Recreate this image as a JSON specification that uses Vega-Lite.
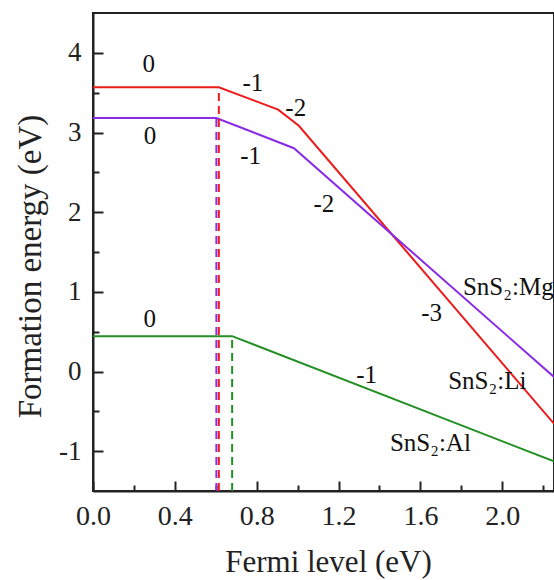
{
  "$schema": "https://vega.github.io/schema/vega-lite/v6.json",
  "width": 461,
  "height": 478,
  "autosize": {"type": "none"},
  "padding": {"left": 93, "top": 13, "right": 0, "bottom": 89},
  "background": "white",
  "config": {
    "view": {"stroke": "#222", "strokeWidth": 2},
    "font": "Liberation Serif",
    "text": {"font": "Liberation Serif"},
    "axis": {
      "grid": false,
      "domainColor": "#222",
      "domainWidth": 2,
      "tickColor": "#222",
      "tickWidth": 2,
      "labelFont": "Liberation Serif",
      "titleFont": "Liberation Serif",
      "labelColor": "#222",
      "titleColor": "#222",
      "titleFontWeight": "normal",
      "labelFlush": false,
      "labelOverlap": false
    }
  },
  "datasets": {
    "lines": [
      {"series": "Li", "x": 0, "y": 3.567},
      {"series": "Li", "x": 0.615, "y": 3.567},
      {"series": "Li", "x": 0.905, "y": 3.287},
      {"series": "Li", "x": 1.006, "y": 3.085},
      {"series": "Li", "x": 2.253, "y": -0.655},
      {"series": "Mg", "x": 0, "y": 3.182},
      {"series": "Mg", "x": 0.603, "y": 3.182},
      {"series": "Mg", "x": 0.982, "y": 2.803},
      {"series": "Mg", "x": 2.253, "y": -0.068},
      {"series": "Al", "x": 0, "y": 0.444},
      {"series": "Al", "x": 0.68, "y": 0.444},
      {"series": "Al", "x": 2.253, "y": -1.128}
    ],
    "drops": [
      {"series": "Mg", "x": 0.603, "y0": -1.5, "y1": 3.182},
      {"series": "Li", "x": 0.615, "y0": -1.5, "y1": 3.567},
      {"series": "Al", "x": 0.68, "y0": -1.5, "y1": 0.444}
    ],
    "charges": [
      {"t": "0", "x": 0.272, "y": 3.865},
      {"t": "-1", "x": 0.781, "y": 3.625},
      {"t": "-2", "x": 0.991, "y": 3.311},
      {"t": "0", "x": 0.278, "y": 2.96},
      {"t": "-1", "x": 0.77, "y": 2.7},
      {"t": "-2", "x": 1.128, "y": 2.105},
      {"t": "-3", "x": 1.655, "y": 0.74},
      {"t": "0", "x": 0.277, "y": 0.658},
      {"t": "-1", "x": 1.337, "y": -0.046}
    ],
    "names": [
      {"t": "SnS₂:Mg", "x": 1.808, "y": 1.06},
      {"t": "SnS₂:Li", "x": 1.736, "y": -0.12},
      {"t": "SnS₂:Al", "x": 1.451, "y": -0.9}
    ]
  },
  "layer": [
    {
      "data": {"name": "lines"},
      "mark": {"type": "line", "strokeWidth": 2},
      "encoding": {
        "x": {
          "field": "x", "type": "quantitative",
          "scale": {"domain": [0, 2.253], "nice": false, "zero": false},
          "axis": {
            "orient": "bottom",
            "values": [0, 0.4, 0.8, 1.2, 1.6, 2.0],
            "format": ".1f",
            "tickSize": -10,
            "labelPadding": 21,
            "labelFont": "Liberation Serif",
            "labelFontSize": 28,
            "title": "Fermi level (eV)",
            "titleFont": "Liberation Serif",
            "titleFontSize": 31,
            "titleX": 235,
            "titleY": 80,
            "titleBaseline": "alphabetic",
            "titleAlign": "center"
          }
        },
        "y": {
          "field": "y", "type": "quantitative",
          "scale": {"domain": [-1.5, 4.5], "nice": false, "zero": false},
          "axis": {
            "orient": "left",
            "values": [-1, 0, 1, 2, 3, 4],
            "labelExpr": "datum.value < 0 ? '-' + abs(datum.value) : '' + datum.value",
            "tickSize": -10,
            "labelPadding": 22,
            "labelFont": "Liberation Serif",
            "labelFontSize": 27,
            "title": "Formation energy (eV)",
            "titleFont": "Liberation Serif",
            "titleFontSize": 33,
            "titleAngle": -90,
            "titleX": -53,
            "titleY": 253,
            "titleBaseline": "alphabetic",
            "titleAlign": "center"
          }
        },
        "color": {
          "field": "series", "type": "nominal",
          "scale": {"domain": ["Li", "Mg", "Al"], "range": ["#ee1a1a", "#8a2be6", "#239023"]},
          "legend": null
        },
        "order": {"field": "x", "type": "quantitative"}
      }
    },
    {
      "data": {"name": "drops"},
      "mark": {"type": "rule", "strokeWidth": 2, "strokeDash": [8, 5]},
      "encoding": {
        "x": {"field": "x", "type": "quantitative", "axis": null},
        "y": {"field": "y0", "type": "quantitative", "axis": null},
        "y2": {"field": "y1"},
        "color": {"field": "series", "type": "nominal", "legend": null}
      }
    },
    {
      "data": {"name": "charges"},
      "mark": {"type": "text", "font": "Liberation Serif", "fontSize": 25, "align": "center", "baseline": "middle", "color": "#111"},
      "encoding": {
        "x": {
          "field": "x", "type": "quantitative",
          "axis": {"orient": "bottom", "values": [0.2, 0.6, 1.0, 1.4, 1.8, 2.2], "labels": false, "domain": false, "tickSize": -6, "title": null}
        },
        "y": {
          "field": "y", "type": "quantitative",
          "axis": {"orient": "left", "values": [-0.5, 0.5, 1.5, 2.5, 3.5], "labels": false, "domain": false, "tickSize": -6, "title": null}
        },
        "text": {"field": "t"}
      }
    },
    {
      "data": {"name": "names"},
      "mark": {"type": "text", "font": "Liberation Serif", "fontSize": 25, "align": "left", "baseline": "middle", "color": "#111"},
      "encoding": {
        "x": {"field": "x", "type": "quantitative", "axis": null},
        "y": {"field": "y", "type": "quantitative", "axis": null},
        "text": {"field": "t"}
      }
    }
  ],
  "resolve": {"axis": {"x": "independent", "y": "independent"}}
}
